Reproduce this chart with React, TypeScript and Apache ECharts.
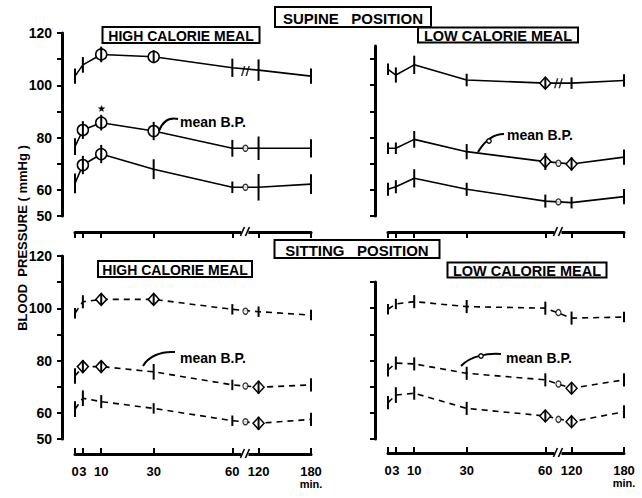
import { useEffect, useRef } from "react";
import * as echarts from "echarts";

// ---- data ----
const minutes = [0, 3, 10, 30, 60, 120, 180];
const xTickLabels = ["0", "3", "10", "30", "60", "120", "180"];
const yTickValues = [50, 60, 70, 80, 90, 100, 110, 120];
const yTickLabels = [50, 60, 80, 100, 120];

// Supine, high calorie
const supineHighSys = [103.5, 107.8, 111.8, 110.9, 106.7, 105.8, 103.5];
const supineHighSysErr = [2.9, 3.0, 3.0, 2.5, 3.5, 4.1, 2.9];
const supineHighSysMark = [0, 0, 1, 1, 0, 0, 0];
const supineHighMean = [76.5, 82.9, 85.7, 82.5, 75.9, 75.9, 75.9];
const supineHighMeanErr = [3.2, 3.4, 3.0, 3.5, 3.2, 4.5, 3.5];
const supineHighMeanMark = [0, 1, 1, 1, 0, 0, 0];
const supineHighDia = [62.5, 69.5, 73.7, 67.9, 61.0, 61.0, 62.2];
const supineHighDiaErr = [3.8, 3.5, 3.5, 3.8, 2.2, 5.1, 3.8];
const supineHighDiaMark = [0, 1, 1, 0, 0, 0, 0];
const supineHighBreak = [105.5, 75.9, 61.0];

// Supine, low calorie
const supineLowSys = [106.1, 103.9, 107.8, 102.0, 100.8, 100.8, 101.8];
const supineLowSysErr = [2.2, 2.9, 3.5, 2.4, 1.9, 2.2, 2.4];
const supineLowSysMark = [0, 0, 0, 0, 1, 0, 0];
const supineLowMean = [75.9, 75.9, 79.3, 74.6, 70.8, 69.9, 72.5];
const supineLowMeanErr = [2.2, 2.2, 3.2, 2.9, 3.2, 2.5, 2.9];
const supineLowMeanMark = [0, 0, 0, 0, 1, 1, 0];
const supineLowDia = [60.2, 61.2, 64.4, 60.2, 55.7, 55.1, 57.4];
const supineLowDiaErr = [2.5, 2.5, 3.5, 2.5, 2.5, 2.2, 2.9];
const supineLowDiaMark = [0, 0, 0, 0, 0, 0, 0];
const supineLowBreak = [100.8, 70.2, 55.4];

// Sitting, high calorie
const sittingHighSys = [98.1, 102.5, 103.4, 103.4, 99.6, 98.7, 97.4];
const sittingHighSysErr = [2.0, 2.5, 2.0, 2.0, 2.0, 2.0, 2.0];
const sittingHighSysMark = [0, 0, 1, 1, 0, 0, 0];
const sittingHighMean = [74.1, 77.7, 77.7, 75.7, 70.7, 69.8, 70.7];
const sittingHighMeanErr = [3.0, 2.5, 2.0, 3.0, 2.0, 2.5, 2.5];
const sittingHighMeanMark = [0, 1, 1, 0, 0, 1, 0];
const sittingHighDia = [61.4, 65.6, 64.3, 61.7, 57.0, 56.0, 57.5];
const sittingHighDiaErr = [3.0, 3.0, 2.5, 2.0, 2.0, 2.5, 2.5];
const sittingHighDiaMark = [0, 0, 0, 0, 0, 1, 0];
const sittingHighBreak = [98.9, 70.3, 56.6];

// Sitting, low calorie
const sittingLowSys = [99.6, 101.6, 102.5, 100.6, 100.0, 96.2, 96.6];
const sittingLowSysErr = [2.0, 2.0, 2.5, 2.5, 2.5, 2.5, 2.0];
const sittingLowSysMark = [0, 0, 0, 0, 0, 0, 0];
const sittingLowMean = [76.4, 79.0, 78.7, 75.1, 72.6, 69.4, 72.6];
const sittingLowMeanErr = [2.5, 2.5, 2.5, 2.5, 2.5, 2.0, 2.5];
const sittingLowMeanMark = [0, 0, 0, 0, 0, 1, 0];
const sittingLowDia = [63.9, 66.8, 67.5, 61.7, 58.8, 56.6, 60.4];
const sittingLowDiaErr = [2.5, 3.0, 2.5, 2.5, 2.0, 2.0, 2.5];
const sittingLowDiaMark = [0, 0, 0, 0, 1, 1, 0];
const sittingLowBreak = [98.3, 71.0, 57.5];

// ---- layout / helpers ----
const FONT = '"Liberation Sans", Arial, sans-serif';
const AXIS_MAX = 90;
const BREAK_POS = 65;
const toAxis = (t: number) => (t <= 60 ? t : 70 + (t - 120) / 3);
const xTickPos = minutes.map(toAxis);

const GRID_W = 236;
const panels = [
  {
    left: 75, top: 33, height: 183, yMax: 120, xOffset: 16, bottomRow: false, dashed: false, sym: "circle",
    lines: [
      { v: supineHighSys, e: supineHighSysErr, m: supineHighSysMark, brk: supineHighBreak[0], slash: true },
      { v: supineHighMean, e: supineHighMeanErr, m: supineHighMeanMark, brk: supineHighBreak[1], slash: false },
      { v: supineHighDia, e: supineHighDiaErr, m: supineHighDiaMark, brk: supineHighBreak[2], slash: false },
    ],
  },
  {
    left: 388, top: 46, height: 170, yMax: 115, xOffset: 16, bottomRow: false, dashed: false, sym: "diamond",
    lines: [
      { v: supineLowSys, e: supineLowSysErr, m: supineLowSysMark, brk: supineLowBreak[0], slash: true },
      { v: supineLowMean, e: supineLowMeanErr, m: supineLowMeanMark, brk: supineLowBreak[1], slash: false },
      { v: supineLowDia, e: supineLowDiaErr, m: supineLowDiaMark, brk: supineLowBreak[2], slash: false },
    ],
  },
  {
    left: 75, top: 256, height: 183, yMax: 120, xOffset: 15, bottomRow: true, dashed: true, sym: "diamond",
    lines: [
      { v: sittingHighSys, e: sittingHighSysErr, m: sittingHighSysMark, brk: sittingHighBreak[0], slash: false },
      { v: sittingHighMean, e: sittingHighMeanErr, m: sittingHighMeanMark, brk: sittingHighBreak[1], slash: false },
      { v: sittingHighDia, e: sittingHighDiaErr, m: sittingHighDiaMark, brk: sittingHighBreak[2], slash: false },
    ],
  },
  {
    left: 388, top: 282, height: 157, yMax: 110, xOffset: 14, bottomRow: true, dashed: true, sym: "diamond",
    lines: [
      { v: sittingLowSys, e: sittingLowSysErr, m: sittingLowSysMark, brk: sittingLowBreak[0], slash: false },
      { v: sittingLowMean, e: sittingLowMeanErr, m: sittingLowMeanMark, brk: sittingLowBreak[1], slash: false },
      { v: sittingLowDia, e: sittingLowDiaErr, m: sittingLowDiaMark, brk: sittingLowBreak[2], slash: false },
    ],
  },
];

const SLASH = "path://M0,10 L3,0 L4.6,0 L1.6,10 Z M4.6,10 L7.6,0 L9.2,0 L6.2,10 Z";

function errRender(params: any, api: any) {
  const x = api.value(0);
  const y = api.value(1);
  const e = api.value(2);
  const p1 = api.coord([x, y + e]);
  const p2 = api.coord([x, y - e]);
  return {
    type: "line",
    shape: { x1: p1[0], y1: p1[1], x2: p2[0], y2: p2[1] },
    style: { stroke: "#000", lineWidth: 2 },
  };
}

function boxTitle(cx: number, cy: number, w: number, h: number, text: string, size: number) {
  return [
    {
      type: "rect",
      shape: { x: cx - w / 2, y: cy - h / 2, width: w, height: h },
      style: { fill: "#fff", stroke: "#000", lineWidth: 2 },
      z: 10,
    },
    {
      type: "text",
      x: cx,
      y: cy + 1,
      style: {
        text,
        font: `bold ${size}px ${FONT}`,
        fill: "#000",
        textAlign: "center",
        textVerticalAlign: "middle",
        align: "center",
        verticalAlign: "middle",
      },
      z: 11,
    },
  ];
}

function meanLabel(tx: number, ty: number, curve: number[], dot: number[] | null) {
  const els: any[] = [
    {
      type: "text",
      x: tx,
      y: ty,
      style: {
        text: "mean B.P.",
        font: `bold 14px ${FONT}`,
        fill: "#000",
        textAlign: "left",
        textVerticalAlign: "middle",
        align: "left",
        verticalAlign: "middle",
      },
      z: 10,
    },
    {
      type: "bezierCurve",
      shape: {
        x1: curve[0], y1: curve[1], cpx1: curve[2], cpy1: curve[3],
        cpx2: curve[4], cpy2: curve[5], x2: curve[6], y2: curve[7],
      },
      style: { stroke: "#000", lineWidth: 2, fill: "none" },
      z: 10,
    },
  ];
  if (dot) {
    els.push({
      type: "circle",
      shape: { cx: dot[0], cy: dot[1], r: 2.2 },
      style: { fill: "#fff", stroke: "#000", lineWidth: 1.3 },
      z: 11,
    });
  }
  return els;
}

function axisBreak(x: number, y: number) {
  return [
    { type: "rect", shape: { x: x - 4, y: y - 3, width: 7, height: 6 }, style: { fill: "#fff" }, z: 10 },
    { type: "line", shape: { x1: x - 5, y1: y + 4, x2: x - 1, y2: y - 5 }, style: { stroke: "#000", lineWidth: 1.6 }, z: 11 },
    { type: "line", shape: { x1: x, y1: y + 4, x2: x + 4, y2: y - 5 }, style: { stroke: "#000", lineWidth: 1.6 }, z: 11 },
  ];
}

function buildOption() {
  const grid: any[] = [];
  const xAxis: any[] = [];
  const yAxis: any[] = [];
  const series: any[] = [];
  const graphic: any[] = [];

  panels.forEach((p, i) => {
    grid.push({ left: p.left, top: p.top, width: GRID_W, height: p.height, containLabel: false });
    xAxis.push({
      type: "value",
      gridIndex: i,
      min: 0,
      max: AXIS_MAX,
      position: "bottom",
      offset: p.xOffset,
      axisLine: { show: true, onZero: false, lineStyle: { color: "#000", width: 3 } },
      axisTick: {
        show: true,
        inside: p.bottomRow,
        length: 6,
        customValues: xTickPos,
        lineStyle: { color: "#000", width: 2 },
      },
      axisLabel: {
        show: p.bottomRow,
        customValues: xTickPos,
        margin: 10,
        color: "#000",
        formatter: (v: number) => {
          const k = xTickPos.indexOf(v);
          const lab = k >= 0 ? xTickLabels[k] : "";
          return v === AXIS_MAX ? `{a|${lab}}\n{b|min.}` : `{a|${lab}}`;
        },
        rich: {
          a: { fontFamily: FONT, fontWeight: "bold", fontSize: 13, color: "#000", lineHeight: 14 },
          b: { fontFamily: FONT, fontWeight: "bold", fontSize: 11, color: "#000", lineHeight: 12 },
        },
      },
      splitLine: { show: false },
    });
    yAxis.push({
      type: "value",
      gridIndex: i,
      min: 50,
      max: p.yMax,
      offset: 13,
      axisLine: { show: true, onZero: false, lineStyle: { color: "#000", width: 3 } },
      axisTick: {
        show: true,
        length: 5,
        customValues: yTickValues.filter((v) => v <= p.yMax),
        lineStyle: { color: "#000", width: 2 },
      },
      axisLabel: {
        show: i % 2 === 0,
        customValues: yTickLabels,
        margin: 10,
        color: "#000",
        fontFamily: FONT,
        fontWeight: "bold",
        fontSize: 14,
      },
      splitLine: { show: false },
    });

    p.lines.forEach((ln, j) => {
      const s: any = {
        type: "line",
        xAxisIndex: i,
        yAxisIndex: i,
        silent: true,
        showSymbol: true,
        symbol: "none",
        data: minutes.map((t, k) => ({
          value: [toAxis(t), ln.v[k]],
          symbol: ln.m[k] ? p.sym : "none",
          symbolSize: p.sym === "circle" ? 11 : [11, 12],
        })),
        lineStyle: { color: "#000", width: 1.6, type: p.dashed ? [6, 5] : "solid" },
        itemStyle: { color: "#fff", borderColor: "#000", borderWidth: 1.5 },
        z: 2,
      };
      if (i === 0 && j === 1) {
        s.markPoint = {
          symbol: "circle",
          symbolSize: 1,
          itemStyle: { color: "rgba(0,0,0,0)" },
          data: [{ coord: [toAxis(minutes[2]), ln.v[2]] }],
          label: {
            show: true,
            formatter: "\u2605",
            offset: [0, -14],
            fontSize: 10,
            color: "#000",
          },
        };
      }
      series.push(s);
      series.push({
        type: "custom",
        xAxisIndex: i,
        yAxisIndex: i,
        silent: true,
        renderItem: errRender,
        encode: { x: 0, y: 1 },
        data: minutes.map((t, k) => [toAxis(t), ln.v[k], ln.e[k]]),
        z: 4,
      });
      series.push({
        type: "scatter",
        xAxisIndex: i,
        yAxisIndex: i,
        silent: true,
        data: [
          ln.slash
            ? { value: [BREAK_POS, ln.brk], symbol: SLASH, symbolSize: [9, 10], itemStyle: { color: "#000", borderWidth: 0 } }
            : { value: [BREAK_POS, ln.brk], symbol: "circle", symbolSize: [5, 6], itemStyle: { color: "#fff", borderColor: "#000", borderWidth: 1.3 } },
        ],
        z: 5,
      });
    });

    const axisY = p.top + p.height + p.xOffset;
    graphic.push(...axisBreak(p.left + (BREAK_POS / AXIS_MAX) * GRID_W, axisY));
  });

  graphic.push(...boxTitle(353, 17, 156, 20, "SUPINE   POSITION", 15));
  graphic.push(...boxTitle(181, 35, 157, 16, "HIGH CALORIE MEAL", 14));
  graphic.push(...boxTitle(498, 35, 160, 15, "LOW CALORIE MEAL", 14.5));
  graphic.push(...boxTitle(357, 249, 165, 18, "SITTING   POSITION", 15));
  graphic.push(...boxTitle(175, 269, 154, 16, "HIGH CALORIE MEAL", 14));
  graphic.push(...boxTitle(527, 270, 159, 15, "LOW CALORIE MEAL", 14.5));

  graphic.push({
    type: "text",
    x: 22,
    y: 238,
    rotation: Math.PI / 2,
    style: {
      text: "BLOOD  PRESSURE ( mmHg )",
      font: `bold 13px ${FONT}`,
      fill: "#000",
      textAlign: "center",
      textVerticalAlign: "middle",
      align: "center",
      verticalAlign: "middle",
    },
    z: 10,
  });

  graphic.push(...meanLabel(180, 122, [178, 119, 168, 117, 162, 123, 159, 131], null));
  graphic.push(...meanLabel(507, 135, [504, 134, 493, 134, 484, 142, 478, 152], [489, 141]));
  graphic.push(...meanLabel(180, 358, [175, 352, 160, 351, 148, 357, 143, 366], null));
  graphic.push(...meanLabel(506, 358, [501, 354, 488, 353, 470, 356, 461, 366], [481, 356]));

  return {
    animation: false,
    backgroundColor: "#fff",
    grid,
    xAxis,
    yAxis,
    series,
    graphic,
  };
}

export default function App() {
  const ref = useRef<HTMLDivElement>(null);
  useEffect(() => {
    document.body.style.margin = "0";
    if (!ref.current) return;
    const chart = echarts.init(ref.current, null, { renderer: "svg" });
    chart.setOption(buildOption() as any);
    return () => chart.dispose();
  }, []);
  return <div ref={ref} style={{ width: 642, height: 498 }} />;
}
